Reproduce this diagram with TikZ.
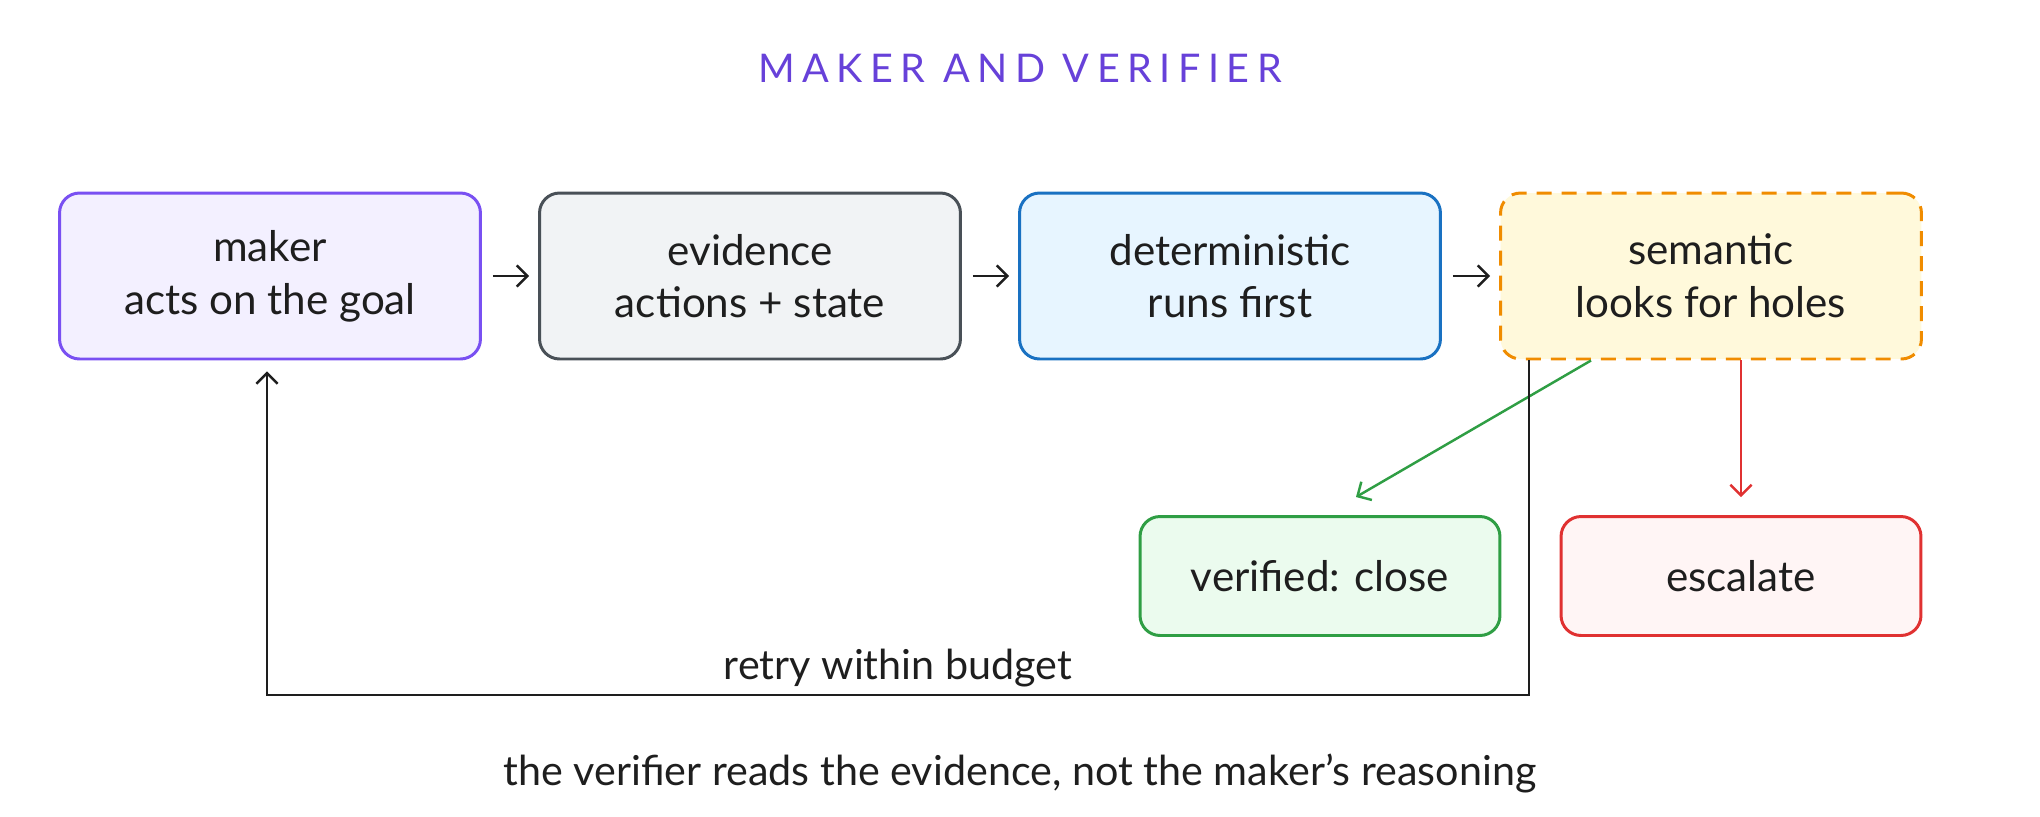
\documentclass[tikz,border=0pt]{standalone}
\usepackage{fontspec}
\setmainfont{Lato}
\usetikzlibrary{arrows.meta,calc}
\definecolor{ink}{HTML}{1E1E1E}
\definecolor{makerline}{HTML}{7950F2}
\definecolor{makerfill}{HTML}{F3F0FF}
\definecolor{titlecol}{HTML}{6741D9}
\definecolor{evline}{HTML}{495057}
\definecolor{evfill}{HTML}{F1F3F5}
\definecolor{detline}{HTML}{1971C2}
\definecolor{detfill}{HTML}{E7F5FF}
\definecolor{semline}{HTML}{F08C00}
\definecolor{semfill}{HTML}{FFF9DB}
\definecolor{okline}{HTML}{2F9E44}
\definecolor{okfill}{HTML}{EBFBEE}
\definecolor{badline}{HTML}{E03131}
\definecolor{badfill}{HTML}{FFF5F5}
\newcommand{\boxfont}{\fontsize{24}{30}\selectfont}
\newcommand{\notefont}{\fontsize{23.5}{28}\selectfont}

\begin{document}
\begin{tikzpicture}[
    x=0.02cm, y=-0.02cm,
    stage/.style={rectangle, rounded corners=0.4cm, line width=1.7pt,
                  minimum width=8.42cm, minimum height=3.32cm, align=center, font=\boxfont, text=ink},
    result/.style={stage, minimum width=7.2cm, minimum height=2.38cm},
    flow/.style={-{Straight Barb[length=6pt,width=12pt]}, line width=1.4pt, draw=ink},
    note/.style={font=\notefont, text=ink}
]
    \useasboundingbox (0,0) rectangle (2040,816);

    % title
    \node[font=\fontsize{22.5}{26}\selectfont\addfontfeature{LetterSpace=19}, text=titlecol] (title) at (1020,68) {MAKER AND VERIFIER};

    % pipeline
    \node[stage, draw=makerline, fill=makerfill] (maker) at (270,276) {maker\\acts on the goal};
    \node[stage, draw=evline, fill=evfill] (evidence) at (750,276) {evidence\\actions + state};
    \node[stage, draw=detline, fill=detfill] (determ) at (1230,276) {deterministic\\runs first};
    \node[stage, draw=semline, fill=semfill, dash pattern=on 0.3cm off 0.2cm] (semantic) at (1711,276) {semantic\\looks for holes};

    % outcomes
    \node[result, draw=okline, fill=okfill] (verified) at (1320,576) {verified: close};
    \node[result, draw=badline, fill=badfill] (escalate) at (1741,576) {escalate};

    % arrows
    \draw[flow, shorten <=0.22cm, shorten >=0.18cm] (maker) -- (evidence);
    \draw[flow, shorten <=0.22cm, shorten >=0.18cm] (evidence) -- (determ);
    \draw[flow, shorten <=0.22cm, shorten >=0.18cm] (determ) -- (semantic);
    \draw[flow, draw=okline] ([xshift=1.84cm]semantic.south west) -- ([shift={(0.72cm,0.36cm)}]verified.north);
    \draw[flow, draw=badline, shorten >=0.36cm] (semantic.south -| escalate) -- (escalate.north);

    % retry loop
    \coordinate (loopbase) at (0,695);
    \coordinate (retryout) at ([xshift=0.6cm]semantic.south west);
    \coordinate (retryin) at ([xshift=4.18cm]maker.south west);
    \draw[flow, shorten >=0.22cm] (retryout) -- (retryout |- loopbase) -| node[note, above, pos=0.25, inner sep=4pt] (retry) {retry within budget} (retryin);

    \node[note] (caption) at (1020,773) {the verifier reads the evidence, not the maker's reasoning};
\end{tikzpicture}
\end{document}
